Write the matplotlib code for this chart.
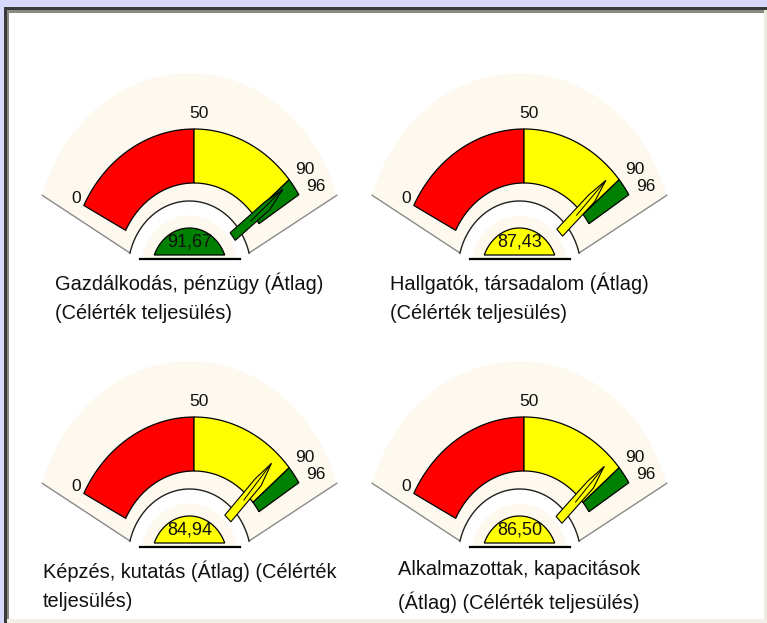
import matplotlib

matplotlib.use("Agg")
import matplotlib.pyplot as plt  # noqa: E402
import numpy as np  # noqa: E402
from matplotlib.patches import Polygon, Rectangle  # noqa: E402

# gauge data
titles = [
    "Gazdálkodás, pénzügy (Átlag)\n(Célérték teljesülés)",
    "Hallgatók, társadalom (Átlag)\n(Célérték teljesülés)",
    "Képzés, kutatás (Átlag) (Célérték\nteljesülés)",
    "Alkalmazottak, kapacitások\n(Átlag) (Célérték teljesülés)",
]
values = [91.67, 87.43, 84.94, 86.50]
value_labels = ["91,67", "87,43", "84,94", "86,50"]
zone_edges = [0, 50, 90, 96]
zone_colors = ["#ff0000", "#ffff00", "#008000"]
tick_values = [0, 50, 90, 96]
scale_min, scale_max = 0, 100

# layout (pixels)
W, H = 767, 623
CENTERS = [(194, 271), (524, 271), (194, 559), (524, 559)]
K = 0.875            # horizontal squash of the gauge
SWEEP = 62.5         # half sweep in degrees
R_OUT, R_IN = 142, 88
FAN_R, FAN_DY, FAN_A = 177, -21, 72
CUT_R, DISP_R, DOME_R = 70.5, 56, 43.5
CREAM = "#fdf9ee"


def ang(v):
    return -SWEEP + (v - scale_min) / (scale_max - scale_min) * 2 * SWEEP


def arc(cx, cy, r, a0, a1, n=80):
    a = np.radians(np.linspace(a0, a1, n))
    return np.column_stack([cx + K * r * np.sin(a), cy - r * np.cos(a)])


def clipped_disc(cx, cy, r, ybot):
    lim = np.degrees(np.arccos(min(1.0, (cy - ybot) / r)))
    return arc(cx, cy, r, -lim, lim)


def zone_color(v):
    for lo, hi, c in zip(zone_edges[:-1], zone_edges[1:], zone_colors):
        if lo <= v < hi:
            return c
    return zone_colors[-1]


def draw_gauge(ax, cx, cy, value, label, title):
    fx = cx - 4.5
    # background fan
    outer = arc(fx, cy + FAN_DY, FAN_R, -FAN_A, FAN_A)
    ybase = cy - 18
    lim = np.degrees(np.arccos((cy + 0.5 - ybase) / CUT_R))
    inner = arc(fx, cy + 0.5, CUT_R, lim, -lim)
    ax.add_patch(Polygon(np.vstack([outer, inner]), closed=True, facecolor=CREAM, edgecolor="none", zorder=1))
    ax.plot([outer[0, 0], inner[-1, 0]], [outer[0, 1], inner[-1, 1]], color="#8a8a8a", lw=1, zorder=2)
    ax.plot([outer[-1, 0], inner[0, 0]], [outer[-1, 1], inner[0, 1]], color="#8a8a8a", lw=1, zorder=2)
    ax.plot(inner[:, 0], inner[:, 1], color="#202020", lw=1, zorder=2)

    # coloured zones
    for lo, hi, c in zip(zone_edges[:-1], zone_edges[1:], zone_colors):
        pts = np.vstack([arc(cx, cy, R_OUT, ang(lo), ang(hi)), arc(cx, cy, R_IN, ang(hi), ang(lo))])
        ax.add_patch(Polygon(pts, closed=True, facecolor=c, edgecolor="black", lw=0.9, zorder=3))

    # value display
    disp = clipped_disc(fx, cy + 0.5, DISP_R, cy - 13)
    ax.add_patch(Polygon(disp, closed=True, facecolor=CREAM, edgecolor="none", zorder=3))
    dome = clipped_disc(fx, cy + 0.5, DOME_R, cy - 16)
    ax.add_patch(Polygon(dome, closed=True, facecolor=zone_color(value), edgecolor="black", lw=0.9, zorder=4))
    ax.plot([fx - 50, fx + 50], [cy - 12.5, cy - 12.5], color="black", lw=1.6, zorder=5)
    ax.text(fx, cy - 29, label, ha="center", va="center", fontsize=13, color="#111111", zorder=6)

    # needle
    a = np.radians(ang(value))
    d = np.array([np.sin(a), -np.cos(a)])
    p = np.array([np.cos(a), np.sin(a)])
    shape = [(56, -4.8), (56, 4.8), (106, 4.8), (130, -2.0), (106, -4.8)]
    pts = np.array([[cx + K * (r * d[0] + w * p[0]), cy + r * d[1] + w * p[1]] for r, w in shape])
    ax.add_patch(Polygon(pts, closed=True, facecolor=zone_color(value), edgecolor="black", lw=0.8, zorder=7))
    line = np.array([[cx + K * (r * d[0] + w * p[0]), cy + r * d[1] + w * p[1]] for r, w in [(82, 0.5), (130, -2.0)]])
    ax.plot(line[:, 0], line[:, 1], color="black", lw=0.7, zorder=8)

    # scale labels
    for t in tick_values:
        ta = np.radians(ang(t))
        ax.text(cx + 5 + K * 158 * np.sin(ta), cy - 158 * np.cos(ta), str(t),
                ha="center", va="center", fontsize=12.5, color="#111111", zorder=6)

    ax.text(fx, cy + 1, title, ha="center", va="top", multialignment="left",
            fontsize=14.4, linespacing=1.7, color="#111111", zorder=6)


plt.rcParams["font.family"] = ["Liberation Sans", "DejaVu Sans"]
fig = plt.figure(figsize=(W / 100, H / 100), dpi=100)
ax = fig.add_axes([0, 0, 1, 1])
ax.set_xlim(0, W)
ax.set_ylim(H, 0)
ax.axis("off")

# window frame
ax.add_patch(Rectangle((0, 0), W, 7, facecolor="#d8d8fc", edgecolor="none", zorder=0))
ax.add_patch(Rectangle((0, 0), 4, H, facecolor="#d8d8fc", edgecolor="none", zorder=0))
ax.add_patch(Rectangle((4, 7), W - 4, 3, facecolor="#3a3a3a", edgecolor="none", zorder=0))
ax.add_patch(Rectangle((4, 7), 2.5, H - 7, facecolor="#3a3a3a", edgecolor="none", zorder=0))
ax.add_patch(Rectangle((6.5, 10), W - 7, 2.5, facecolor="#8c8a80", edgecolor="none", zorder=0))
ax.add_patch(Rectangle((6.5, 10), 2.5, H - 10, facecolor="#8c8a80", edgecolor="none", zorder=0))
ax.add_patch(Rectangle((W - 3.5, 10), 3.5, H - 10, facecolor="#ecebe0", edgecolor="none", zorder=0))
ax.add_patch(Rectangle((6.5, H - 4), W - 6.5, 4, facecolor="#f2f0e6", edgecolor="none", zorder=0))

for (cx, cy), v, lab, t in zip(CENTERS, values, value_labels, titles):
    draw_gauge(ax, cx, cy, v, lab, t)

fig.savefig("out.png", dpi=100)
